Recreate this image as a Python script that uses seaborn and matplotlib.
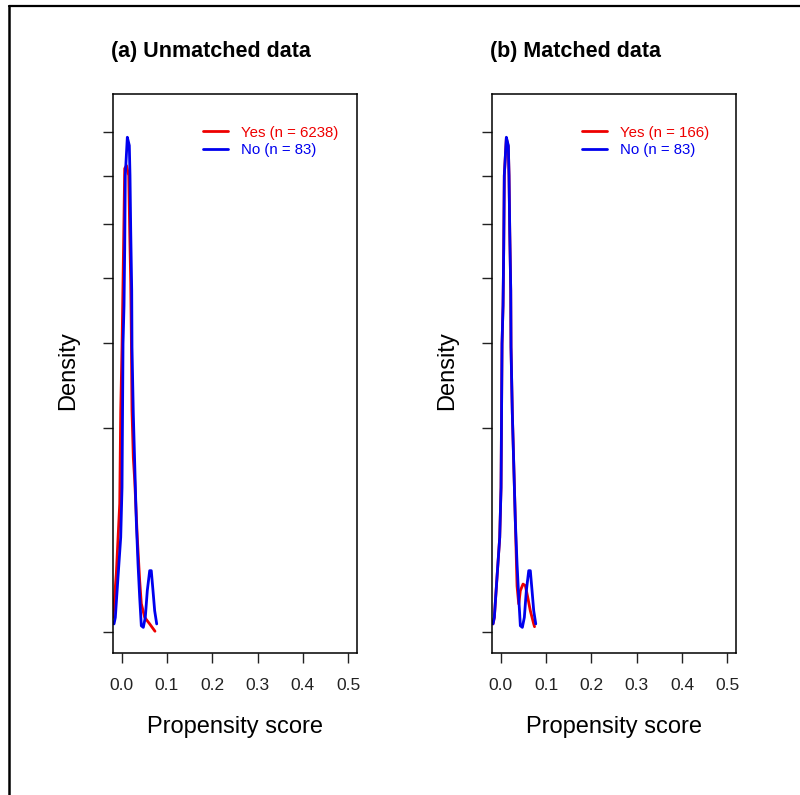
import numpy as np
import pandas as pd
import matplotlib
matplotlib.use("Agg")
import matplotlib.pyplot as plt
from matplotlib.lines import Line2D
import seaborn as sns

# ---------------- data ----------------
# "No" group density (same in both panels)
no_x = [-0.0170, -0.0141, -0.0082, -0.0022, 0.0007, 0.0029, 0.0051, 0.0066, 0.0079,
        0.0124, 0.0168, 0.0183, 0.0199, 0.0221, 0.0227, 0.0256, 0.0287, 0.0322,
        0.0360, 0.0397, 0.0433, 0.0477, 0.0521, 0.0565, 0.0618, 0.0653, 0.0691,
        0.0728, 0.0773]
no_d = [0.029, 0.098, 1.42, 4.28, 10.0, 39.9, 51.1, 70.5, 100.0,
        117.5, 113.6, 100.0, 77.3, 55.9, 38.9, 22.9, 13.6, 5.93,
        2.22, 0.566, 0.017, 0.009, 0.098, 0.81, 1.79, 1.79, 0.81,
        0.21, 0.029]

# "Yes" group density, unmatched data
unm_yes_x = [-0.0192, -0.0119, -0.0044, -0.0022, 0.0007, 0.0030, 0.0051, 0.0066,
             0.0106, 0.0155, 0.0177, 0.0199, 0.0212, 0.0227, 0.0256, 0.0287,
             0.0344, 0.0397, 0.0433, 0.0508, 0.0618, 0.0735]
unm_yes_d = [0.098, 1.62, 7.88, 23.5, 38.9, 59.9, 83.2, 103.1,
             104.4, 100.0, 76.7, 58.7, 42.7, 23.5, 14.6, 11.0,
             4.27, 1.25, 0.377, 0.098, 0.029, 0.0001]

# "Yes" group density, matched data
mat_yes_x = [-0.0170, -0.0141, -0.0082, -0.0022, 0.0007, 0.0029, 0.0051, 0.0066, 0.0079,
             0.0124, 0.0168, 0.0183, 0.0199, 0.0221, 0.0227, 0.0256, 0.0287, 0.0322,
             0.0360, 0.0397, 0.0433, 0.0492, 0.0543, 0.0596, 0.0653, 0.0728, 0.0746]
mat_yes_d = [0.029, 0.098, 1.42, 4.28, 10.0, 39.9, 51.1, 70.5, 100.0,
             117.0, 113.0, 100.0, 77.3, 55.9, 38.9, 22.9, 13.6, 5.93,
             1.0, 0.37, 0.81, 1.09, 1.02, 0.57, 0.21, 0.029, 0.012]

titles = ["(a) Unmatched data", "(b) Matched data"]
yes_labels = ["Yes (n = 6238)", "Yes (n = 166)"]
no_label = "No (n = 83)"
x_ticks = [0.0, 0.1, 0.2, 0.3, 0.4, 0.5]
x_ticklabels = ["0.0", "0.1", "0.2", "0.3", "0.4", "0.5"]
y_ticks = [0, 20, 40, 60, 80, 100, 120]
x_label = "Propensity score"
y_label = "Density"

# ---------------- figure ----------------
sns.set_theme(style="white")
plt.rcParams["font.family"] = ["Liberation Sans", "DejaVu Sans"]

W, H = 800, 795
fig = plt.figure(figsize=(W / 100, H / 100), dpi=100)
fig.patch.set_facecolor("white")


def fx(px):
    return px / W


def fy(py):
    return 1 - py / H


def ssqrt(v):
    v = np.asarray(v, dtype=float)
    return np.sign(v) * np.sqrt(np.abs(v))


def ssq(v):
    v = np.asarray(v, dtype=float)
    return np.sign(v) * v ** 2


panels = [
    dict(left=112.7, right=356.7, yes_x=unm_yes_x, yes_d=unm_yes_d),
    dict(left=491.7, right=736.0, yes_x=mat_yes_x, yes_d=mat_yes_d),
]
top_px, bot_px = 94.3, 652.7
RED, BLUE = "#ee0000", "#0000ee"

for i, p in enumerate(panels):
    ax = fig.add_axes([fx(p["left"]), fy(bot_px), fx(p["right"] - p["left"]),
                       (bot_px - top_px) / H])
    ax.set_facecolor("white")
    ax.set_yscale("function", functions=(ssqrt, ssq))

    df_yes = pd.DataFrame({"x": p["yes_x"], "d": p["yes_d"]})
    df_no = pd.DataFrame({"x": no_x, "d": no_d})
    sns.lineplot(data=df_yes, x="x", y="d", ax=ax, color=RED, lw=2.0,
                 sort=False, estimator=None)
    sns.lineplot(data=df_no, x="x", y="d", ax=ax, color=BLUE, lw=2.0,
                 sort=False, estimator=None)

    ax.set_xlim(-0.0199, 0.519)
    ax.set_ylim(-0.212, 138.8)
    ax.set_xticks(x_ticks)
    ax.set_xticklabels(x_ticklabels)
    ax.set_yticks(y_ticks)
    ax.set_yticklabels([])
    ax.set_xlabel("")
    ax.set_ylabel("")
    for s in ax.spines.values():
        s.set_visible(True)
        s.set_color("black")
        s.set_linewidth(1.1)
    ax.tick_params(axis="both", direction="out", length=7.5, width=1.0,
                   color="#222222", labelsize=12.5, labelcolor="#222222",
                   bottom=True, left=True)
    ax.tick_params(axis="x", pad=11)

    handles = [Line2D([0], [0], color=RED, lw=2.0),
               Line2D([0], [0], color=BLUE, lw=2.0)]
    ax.legend(handles, [yes_labels[i], no_label], loc="upper left",
              bbox_to_anchor=(0.37, 0.944), frameon=False, fontsize=10.8,
              handlelength=1.68, handletextpad=0.87, labelspacing=0.25,
              borderpad=0, borderaxespad=0, labelcolor="linecolor")

    cx = (p["left"] + p["right"]) / 2
    fig.text(fx(p["left"] - 1.5), fy(52), titles[i], fontsize=15.5,
             fontweight="bold", ha="left", va="center", color="black")
    fig.text(fx(cx), fy(727), x_label, fontsize=17, ha="center", va="center",
             color="black")
    fig.text(fx(p["left"] - 44.5), fy(371), y_label, fontsize=17, rotation=90,
             ha="center", va="center", color="black")

# outer frame (top and left edges)
fig.add_artist(Line2D([fx(9), fx(800)], [fy(5.5), fy(5.5)], color="black", lw=1.6,
                      transform=fig.transFigure))
fig.add_artist(Line2D([fx(9), fx(9)], [fy(5.5), fy(795)], color="black", lw=1.8,
                      transform=fig.transFigure))

fig.savefig("out.png", dpi=100, facecolor="white")
